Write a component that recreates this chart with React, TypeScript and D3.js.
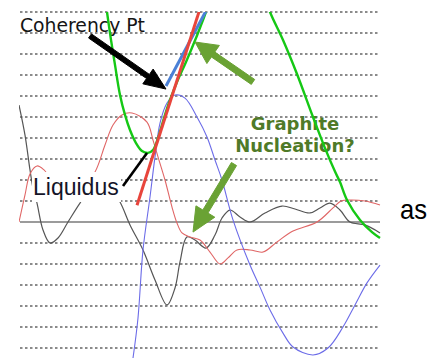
import React from 'react'
import * as d3 from 'd3'

// cooling curve derivatives, x = time, y = grid units (0 = solid base line)
const grayX = [-1, 5, 10, 13, 17, 23, 30, 38, 48, 60, 70, 80, 90, 100, 110, 123, 135, 147, 155, 160, 167, 175, 186, 195, 202, 210, 220, 230, 245, 262, 275, 290, 300, 310, 320, 330, 345, 360]
const grayY = [5.57, 4.14, 2.48, 1.62, 0.9, -0.38, -1.0, -0.76, 0, 0.9, 1.52, 1.86, 1.62, 0.95, -0.14, -1.33, -2.76, -3.95, -3.14, -1.9, -0.71, -0.86, -1.24, -0.62, 0.19, 0.57, 0.24, 0, 0.43, 0.76, 0.62, 0.43, 0.67, 0.9, 0.57, 0, -0.14, -0.52]

const redX = [-1, 5, 10, 17, 24, 40, 60, 75, 85, 93, 102, 112, 127, 133, 138, 145, 152, 157, 162, 170, 180, 190, 200, 208, 217, 230, 243, 257, 273, 297, 313, 321, 330, 345, 360]
const redY = [0, 1.29, 2.29, 2.67, 2.48, 1.52, 1.52, 2.38, 3.67, 4.62, 5.1, 5.19, 4.76, 3.9, 3.1, 2.0, 0.71, -0.05, -0.52, -0.71, -0.86, -1.43, -2.0, -1.71, -1.33, -1.33, -1.43, -0.95, -0.43, 0, 0.67, 1.0, 1.05, 1.0, 0.81]

const blueX = [113, 118, 123, 130, 135, 140, 147, 155, 165, 177, 187, 195, 202, 213, 230, 240, 250, 263, 273, 293, 308, 323, 335, 347, 360]
const blueY = [-6.48, -4.57, -1.33, 1.19, 3.1, 4.71, 5.67, 6.05, 5.9, 5.0, 4.05, 2.95, 2.0, 0.1, -2.05, -3.1, -4.19, -5.29, -5.95, -6.33, -6.0, -5.0, -3.95, -2.9, -2.05]

const greenX = [87, 91, 95, 100, 105, 110, 116, 122, 128, 133, 138, 144, 150, 157, 166, 176, 183, 189, 205, 225, 243, 250, 263, 277, 293, 305, 315, 320, 327, 340, 352, 360]
const greenY = [10, 8.67, 7.48, 6.05, 5.1, 4.38, 3.76, 3.38, 3.29, 3.43, 4.0, 4.95, 5.81, 6.67, 7.62, 8.76, 9.62, 10.33, 11.6, 12.0, 11.0, 10, 8.67, 7.05, 5.0, 3.52, 2.4, 1.9, 1.05, 0.1, -0.48, -0.76]

// tangent lines
const redTangent = [[117, 0.8], [183, 10.6]]
const blueTangent = [[146, 6.48], [191, 10.5]]

const gridValues = d3.range(-6, 11)

const zip = (xs: number[], ys: number[]) => xs.map((x, i) => [x, ys[i]] as [number, number])

function arrowPath(x1: number, y1: number, x2: number, y2: number, shaft: number, headLen: number, headW: number) {
  const dx = x2 - x1
  const dy = y2 - y1
  const len = Math.hypot(dx, dy)
  const ux = dx / len, uy = dy / len
  const nx = -uy, ny = ux
  const bx = x2 - ux * headLen, by = y2 - uy * headLen
  const p = [
    [x1 + nx * shaft / 2, y1 + ny * shaft / 2],
    [bx + nx * shaft / 2, by + ny * shaft / 2],
    [bx + nx * headW / 2, by + ny * headW / 2],
    [x2, y2],
    [bx - nx * headW / 2, by - ny * headW / 2],
    [bx - nx * shaft / 2, by - ny * shaft / 2],
    [x1 - nx * shaft / 2, y1 - ny * shaft / 2]
  ]
  return 'M' + p.map(d => d.join(',')).join('L') + 'Z'
}

export default function App() {
  const width = 435
  const height = 358
  const x = d3.scaleLinear().domain([0, 360]).range([20, 380])
  const y = d3.scaleLinear().domain([-6, 10]).range([348, 12])

  const curve = d3.line<[number, number]>()
    .x(d => x(d[0]))
    .y(d => y(d[1]))
    .curve(d3.curveCatmullRom.alpha(0.5))
  const straight = d3.line<number[]>().x(d => x(d[0])).y(d => y(d[1]))

  const green = '#6aa234'

  return (
    <svg width={width} height={height} style={{position: 'absolute', left: 0, top: 0, background: '#fff'}}>
      <defs>
        <clipPath id="plot">
          <rect x={19} y={12} width={362} height={346} />
        </clipPath>
      </defs>
      {/* grid */}
      {gridValues.map(v => (
        <line key={v} x1={x(0)} x2={x(360)} y1={y(v)} y2={y(v)}
          stroke={v === 0 ? '#7a7a7a' : '#666'}
          strokeWidth={v === 0 ? 1.6 : 1.3}
          strokeDasharray={v === 0 ? undefined : '2.5 2.5'} />
      ))}

      <text x={20} y={32} fontFamily="DejaVu Sans" fontSize={18.8} fill="#151515">Coherency Pt</text>
      <text x={295} y={130} textAnchor="middle" fontFamily="DejaVu Sans" fontWeight="bold" fontSize={18} fill="#4f7a28">Graphite</text>
      <text x={295} y={152} textAnchor="middle" fontFamily="DejaVu Sans" fontWeight="bold" fontSize={18} fill="#4f7a28">Nucleation?</text>

      <g clipPath="url(#plot)" fill="none">
        <path d={curve(zip(grayX, grayY)) || ''} stroke="#555" strokeWidth={1.2} />
        <path d={curve(zip(redX, redY)) || ''} stroke="#e06666" strokeWidth={1.1} />
        <path d={curve(zip(blueX, blueY)) || ''} stroke="#6c6ce8" strokeWidth={1.1} />
        <path d={curve(zip(greenX, greenY)) || ''} stroke="#15c815" strokeWidth={2.4} />
        <path d={straight(blueTangent) || ''} stroke="#4a80d6" strokeWidth={3} />
        <path d={straight(redTangent) || ''} stroke="#e8453c" strokeWidth={3} />
      </g>

      {/* Liquidus label */}
      <rect x={32} y={172} width={89} height={30} fill="#fff" />
      <text x={33} y={195} fontFamily="Liberation Sans" fontSize={23} fill="#141428">Liquidus</text>
      <line x1={x(103)} y1={y(1.71)} x2={x(127)} y2={y(3.29)} stroke="#000" strokeWidth={2.6} />

      {/* arrows */}
      <path d={arrowPath(x(70), y(8.86), x(146), y(6.33), 5, 22, 18)} fill="#000" stroke="#000" strokeWidth={1} strokeLinejoin="round" />
      <path d={arrowPath(x(233), y(6.67), x(175), y(8.57), 6, 22, 22)} fill={green} stroke={green} strokeWidth={1} strokeLinejoin="round" />
      <path d={arrowPath(x(214), y(2.76), x(173), y(-0.48), 6, 24, 22)} fill={green} stroke={green} strokeWidth={1} strokeLinejoin="round" />

      <text x={400} y={219} fontFamily="Liberation Sans" fontSize={28} textLength={27} lengthAdjust="spacingAndGlyphs" fill="#000">as</text>
    </svg>
  )
}
